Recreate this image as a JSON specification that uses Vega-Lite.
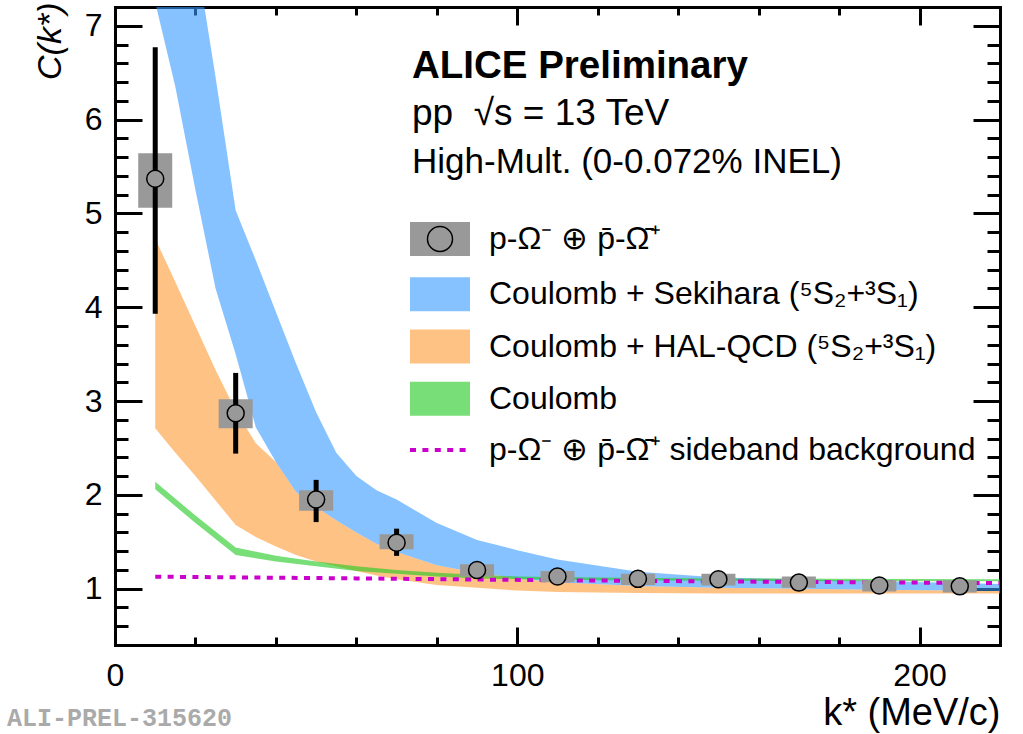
{
  "$schema": "https://vega.github.io/schema/vega-lite/v6.json",
  "width": 885,
  "height": 638,
  "autosize": {"type": "none"},
  "padding": {"left": 115, "top": 7, "right": 23, "bottom": 89},
  "background": "white",
  "config": {
    "view": {"stroke": null},
    "font": "Liberation Sans",
    "axis": {
      "grid": false,
      "domainColor": "black",
      "domainWidth": 3,
      "domainCap": "square",
      "tickColor": "black",
      "tickWidth": 3,
      "labelFont": "Liberation Sans",
      "labelFontSize": 32,
      "labelColor": "black",
      "labelFlush": false,
      "labelOverlap": false,
      "titleFont": "Liberation Sans",
      "titleFontSize": 38,
      "titleFontWeight": "normal",
      "titleColor": "black",
      "zindex": 1
    }
  },
  "datasets": {
    "blue": [
      {"k": 10, "lo": 7.25, "hi": 10.6},
      {"k": 15, "lo": 6.35, "hi": 9.2},
      {"k": 20, "lo": 5.25, "hi": 7.8},
      {"k": 25, "lo": 4.2, "hi": 6.45},
      {"k": 30, "lo": 3.5, "hi": 5.03},
      {"k": 35, "lo": 2.72, "hi": 4.5},
      {"k": 40, "lo": 2.35, "hi": 3.95},
      {"k": 45, "lo": 2.03, "hi": 3.4},
      {"k": 50, "lo": 1.87, "hi": 2.88},
      {"k": 55, "lo": 1.73, "hi": 2.45},
      {"k": 60, "lo": 1.6, "hi": 2.2},
      {"k": 65, "lo": 1.48, "hi": 2.05},
      {"k": 70, "lo": 1.39, "hi": 1.95},
      {"k": 80, "lo": 1.25, "hi": 1.7},
      {"k": 90, "lo": 1.17, "hi": 1.52},
      {"k": 100, "lo": 1.11, "hi": 1.41},
      {"k": 110, "lo": 1.07, "hi": 1.31},
      {"k": 130, "lo": 1.03, "hi": 1.18},
      {"k": 150, "lo": 1.01, "hi": 1.12},
      {"k": 170, "lo": 1.0, "hi": 1.1},
      {"k": 190, "lo": 0.99, "hi": 1.08},
      {"k": 210, "lo": 0.98, "hi": 1.06},
      {"k": 220, "lo": 0.975, "hi": 1.05}
    ],
    "orange": [
      {"k": 10, "lo": 2.71, "hi": 4.73},
      {"k": 15, "lo": 2.45, "hi": 4.27},
      {"k": 20, "lo": 2.2, "hi": 3.8},
      {"k": 25, "lo": 1.94, "hi": 3.33},
      {"k": 30, "lo": 1.68, "hi": 2.9},
      {"k": 35, "lo": 1.55, "hi": 2.55},
      {"k": 40, "lo": 1.45, "hi": 2.35},
      {"k": 45, "lo": 1.36, "hi": 2.03},
      {"k": 50, "lo": 1.29, "hi": 1.87},
      {"k": 55, "lo": 1.24, "hi": 1.73},
      {"k": 60, "lo": 1.19, "hi": 1.6},
      {"k": 65, "lo": 1.14, "hi": 1.48},
      {"k": 70, "lo": 1.1, "hi": 1.39},
      {"k": 80, "lo": 1.04, "hi": 1.25},
      {"k": 90, "lo": 1.01, "hi": 1.17},
      {"k": 100, "lo": 0.98, "hi": 1.11},
      {"k": 110, "lo": 0.965, "hi": 1.07},
      {"k": 130, "lo": 0.955, "hi": 1.03},
      {"k": 150, "lo": 0.95, "hi": 1.01},
      {"k": 170, "lo": 0.95, "hi": 1.0},
      {"k": 190, "lo": 0.95, "hi": 0.99},
      {"k": 210, "lo": 0.95, "hi": 0.98},
      {"k": 220, "lo": 0.95, "hi": 0.975}
    ],
    "green": [
      {"k": 10, "lo": 2.06, "hi": 2.14},
      {"k": 20, "lo": 1.7, "hi": 1.78},
      {"k": 30, "lo": 1.36, "hi": 1.44},
      {"k": 40, "lo": 1.29, "hi": 1.35},
      {"k": 50, "lo": 1.24, "hi": 1.29},
      {"k": 60, "lo": 1.19, "hi": 1.24},
      {"k": 70, "lo": 1.16, "hi": 1.2},
      {"k": 80, "lo": 1.13, "hi": 1.17},
      {"k": 90, "lo": 1.11, "hi": 1.15},
      {"k": 100, "lo": 1.1, "hi": 1.13},
      {"k": 120, "lo": 1.09, "hi": 1.12},
      {"k": 150, "lo": 1.085, "hi": 1.11},
      {"k": 180, "lo": 1.08, "hi": 1.105},
      {"k": 220, "lo": 1.08, "hi": 1.1}
    ],
    "sideband": [
      {"k": 10, "c": 1.128},
      {"k": 60, "c": 1.11},
      {"k": 110, "c": 1.09},
      {"k": 160, "c": 1.075},
      {"k": 220, "c": 1.06}
    ],
    "pts": [
      {"k": 10, "c": 5.37, "statLo": 3.93, "statHi": 6.77, "systLo": 5.06, "systHi": 5.64},
      {"k": 30, "c": 2.87, "statLo": 2.44, "statHi": 3.3, "systLo": 2.71, "systHi": 3.02},
      {"k": 50, "c": 1.95, "statLo": 1.71, "statHi": 2.16, "systLo": 1.83, "systHi": 2.05},
      {"k": 70, "c": 1.49, "statLo": 1.35, "statHi": 1.64, "systLo": 1.42, "systHi": 1.58},
      {"k": 90, "c": 1.2, "statLo": 1.13, "statHi": 1.27, "systLo": 1.13, "systHi": 1.26},
      {"k": 110, "c": 1.13, "statLo": 1.08, "statHi": 1.18, "systLo": 1.07, "systHi": 1.19},
      {"k": 130, "c": 1.105, "statLo": 1.07, "statHi": 1.14, "systLo": 1.04, "systHi": 1.16},
      {"k": 150, "c": 1.1, "statLo": 1.07, "statHi": 1.13, "systLo": 1.035, "systHi": 1.16},
      {"k": 170, "c": 1.065, "statLo": 1.04, "statHi": 1.09, "systLo": 1.01, "systHi": 1.13},
      {"k": 190, "c": 1.035, "statLo": 1.01, "statHi": 1.06, "systLo": 0.97, "systHi": 1.09},
      {"k": 210, "c": 1.025, "statLo": 1.0, "statHi": 1.05, "systLo": 0.96, "systHi": 1.09}
    ]
  },
  "resolve": {"axis": {"x": "independent", "y": "independent"}},
  "layer": [
    {
      "data": {"name": "orange"},
      "mark": {"type": "area", "clip": true, "fillOpacity": 0.6},
      "encoding": {
        "x": {"field": "k", "type": "quantitative", "scale": {"domain": [0, 220], "nice": false, "zero": false, "padding": 0},
          "axis": {"orient": "bottom", "values": [0, 100, 200], "tickSize": -18, "labelPadding": 33,
            "title": "k* (MeV/c)", "titleAnchor": "end", "titleAlign": "right", "titleBaseline": "alphabetic", "titleX": 885, "titleY": 79}},
        "y": {"field": "lo", "type": "quantitative", "scale": {"domain": [0.4, 7.2], "nice": false, "zero": false},
          "axis": {"orient": "left", "values": [1, 2, 3, 4, 5, 6, 7], "tickSize": -27, "labelPadding": 40,
            "title": "C(k*)", "titleFontStyle": "italic", "titleFontSize": 34, "titleAnchor": "end", "titleAngle": -90, "titleAlign": "right", "titleBaseline": "alphabetic", "titleX": -55, "titleY": -5}},
        "y2": {"field": "hi"},
        "color": {"datum": "C",
          "scale": {"domain": ["A", "B", "C", "D", "E"], "range": ["#999999", "#3399ff", "#ff9933", "#1ec81e", "#cc00cc"]},
          "legend": {
            "orient": "none", "legendX": 309, "legendY": 216, "direction": "vertical", "title": null,
            "padding": 0, "rowPadding": 18.25, "symbolSize": 1600, "symbolType": "square",
            "labelFontSize": 32, "labelFont": "Liberation Sans", "labelColor": "black", "labelLimit": 800, "labelOffset": 33,
            "labelExpr": "datum.value == 'A' ? 'p-Ω⁻ ⊕ p̄-Ω̄⁺' : datum.value == 'B' ? 'Coulomb + Sekihara (⁵S₂+³S₁)' : datum.value == 'C' ? 'Coulomb + HAL-QCD (⁵S₂+³S₁)' : datum.value == 'D' ? 'Coulomb' : 'p-Ω⁻ ⊕ p̄-Ω̄⁺ sideband background'",
            "encode": {"symbols": {"update": {
              "shape": {"signal": "datum.value == 'E' ? 'M-1.5,0H1.5' : datum.value == 'A' ? 'M0.625,0A0.625,0.625,0,1,1,-0.625,0A0.625,0.625,0,1,1,0.625,0L1.5,0L1.5,0.85L-1.5,0.85L-1.5,-0.85L1.5,-0.85L1.5,0L0.625,0Z' : 'M-1.5,-0.85H1.5V0.85H-1.5Z'"},
              "fillOpacity": {"signal": "datum.value == 'A' ? 1 : 0.6"},
              "opacity": {"value": 1},
              "stroke": {"signal": "datum.value == 'E' ? '#cc00cc' : datum.value == 'A' ? 'black' : 'transparent'"},
              "strokeOpacity": {"signal": "datum.value == 'E' || datum.value == 'A' ? 1 : 0"},
              "strokeWidth": {"signal": "datum.value == 'E' ? 4 : datum.value == 'A' ? 1.5 : 0"},
              "strokeDash": {"signal": "datum.value == 'E' ? [6, 6.4] : datum.value == 'A' ? [78.6, 2000] : [1, 0]"}
            }}}
          }}
      }
    },
    {
      "data": {"name": "blue"},
      "mark": {"type": "area", "clip": true, "fillOpacity": 0.6},
      "encoding": {
        "x": {"field": "k", "type": "quantitative", "scale": {"domain": [0, 220], "nice": false, "zero": false, "padding": 0},
          "axis": {"orient": "bottom", "values": [20, 40, 60, 80, 120, 140, 160, 180], "tickSize": -8, "labels": false, "domain": false, "title": null}},
        "y": {"field": "lo", "type": "quantitative", "scale": {"domain": [0.4, 7.2], "nice": false, "zero": false},
          "axis": {"orient": "left", "values": [0.6, 0.8, 1.2, 1.4, 1.6, 1.8, 2.2, 2.4, 2.6, 2.8, 3.2, 3.4, 3.6, 3.8, 4.2, 4.4, 4.6, 4.8, 5.2, 5.4, 5.6, 5.8, 6.2, 6.4, 6.6, 6.8], "tickSize": -13, "labels": false, "domain": false, "title": null}},
        "y2": {"field": "hi"},
        "color": {"datum": "B",
          "legend": {
            "orient": "none", "legendX": 309, "legendY": 216, "direction": "vertical", "title": null,
            "padding": 0, "rowPadding": 18.25, "symbolSize": 1600, "symbolType": "square",
            "labelFontSize": 32, "labelFont": "Liberation Sans", "labelColor": "black", "labelLimit": 800, "labelOffset": 33,
            "labelExpr": "datum.value == 'A' ? 'p-Ω⁻ ⊕ p̄-Ω̄⁺' : datum.value == 'B' ? 'Coulomb + Sekihara (⁵S₂+³S₁)' : datum.value == 'C' ? 'Coulomb + HAL-QCD (⁵S₂+³S₁)' : datum.value == 'D' ? 'Coulomb' : 'p-Ω⁻ ⊕ p̄-Ω̄⁺ sideband background'",
            "encode": {"symbols": {"update": {
              "shape": {"signal": "datum.value == 'E' ? 'M-1.5,0H1.5' : datum.value == 'A' ? 'M0.625,0A0.625,0.625,0,1,1,-0.625,0A0.625,0.625,0,1,1,0.625,0L1.5,0L1.5,0.85L-1.5,0.85L-1.5,-0.85L1.5,-0.85L1.5,0L0.625,0Z' : 'M-1.5,-0.85H1.5V0.85H-1.5Z'"},
              "fillOpacity": {"signal": "datum.value == 'A' ? 1 : 0.6"},
              "opacity": {"value": 1},
              "stroke": {"signal": "datum.value == 'E' ? '#cc00cc' : datum.value == 'A' ? 'black' : 'transparent'"},
              "strokeOpacity": {"signal": "datum.value == 'E' || datum.value == 'A' ? 1 : 0"},
              "strokeWidth": {"signal": "datum.value == 'E' ? 4 : datum.value == 'A' ? 1.5 : 0"},
              "strokeDash": {"signal": "datum.value == 'E' ? [6, 6.4] : datum.value == 'A' ? [78.6, 2000] : [1, 0]"}
            }}}
          }}
      }
    },
    {
      "data": {"name": "green"},
      "mark": {"type": "area", "clip": true, "fillOpacity": 0.6},
      "encoding": {
        "x": {"field": "k", "type": "quantitative", "scale": {"domain": [0, 220], "nice": false, "zero": false, "padding": 0},
          "axis": {"orient": "top", "values": [0, 100, 200], "tickSize": -18, "labels": false, "domain": true, "title": null}},
        "y": {"field": "lo", "type": "quantitative", "scale": {"domain": [0.4, 7.2], "nice": false, "zero": false},
          "axis": {"orient": "right", "values": [1, 2, 3, 4, 5, 6, 7], "tickSize": -27, "labels": false, "domain": true, "title": null}},
        "y2": {"field": "hi"},
        "color": {"datum": "D",
          "legend": {
            "orient": "none", "legendX": 309, "legendY": 216, "direction": "vertical", "title": null,
            "padding": 0, "rowPadding": 18.25, "symbolSize": 1600, "symbolType": "square",
            "labelFontSize": 32, "labelFont": "Liberation Sans", "labelColor": "black", "labelLimit": 800, "labelOffset": 33,
            "labelExpr": "datum.value == 'A' ? 'p-Ω⁻ ⊕ p̄-Ω̄⁺' : datum.value == 'B' ? 'Coulomb + Sekihara (⁵S₂+³S₁)' : datum.value == 'C' ? 'Coulomb + HAL-QCD (⁵S₂+³S₁)' : datum.value == 'D' ? 'Coulomb' : 'p-Ω⁻ ⊕ p̄-Ω̄⁺ sideband background'",
            "encode": {"symbols": {"update": {
              "shape": {"signal": "datum.value == 'E' ? 'M-1.5,0H1.5' : datum.value == 'A' ? 'M0.625,0A0.625,0.625,0,1,1,-0.625,0A0.625,0.625,0,1,1,0.625,0L1.5,0L1.5,0.85L-1.5,0.85L-1.5,-0.85L1.5,-0.85L1.5,0L0.625,0Z' : 'M-1.5,-0.85H1.5V0.85H-1.5Z'"},
              "fillOpacity": {"signal": "datum.value == 'A' ? 1 : 0.6"},
              "opacity": {"value": 1},
              "stroke": {"signal": "datum.value == 'E' ? '#cc00cc' : datum.value == 'A' ? 'black' : 'transparent'"},
              "strokeOpacity": {"signal": "datum.value == 'E' || datum.value == 'A' ? 1 : 0"},
              "strokeWidth": {"signal": "datum.value == 'E' ? 4 : datum.value == 'A' ? 1.5 : 0"},
              "strokeDash": {"signal": "datum.value == 'E' ? [6, 6.4] : datum.value == 'A' ? [78.6, 2000] : [1, 0]"}
            }}}
          }}
      }
    },
    {
      "data": {"name": "sideband"},
      "mark": {"type": "line", "clip": true, "color": "#cc00cc", "strokeWidth": 4, "strokeDash": [6, 6.4]},
      "encoding": {
        "x": {"field": "k", "type": "quantitative", "scale": {"domain": [0, 220], "nice": false, "zero": false, "padding": 0},
          "axis": {"orient": "top", "values": [20, 40, 60, 80, 120, 140, 160, 180], "tickSize": -8, "labels": false, "domain": false, "title": null}},
        "y": {"field": "c", "type": "quantitative", "scale": {"domain": [0.4, 7.2], "nice": false, "zero": false},
          "axis": {"orient": "right", "values": [0.6, 0.8, 1.2, 1.4, 1.6, 1.8, 2.2, 2.4, 2.6, 2.8, 3.2, 3.4, 3.6, 3.8, 4.2, 4.4, 4.6, 4.8, 5.2, 5.4, 5.6, 5.8, 6.2, 6.4, 6.6, 6.8], "tickSize": -13, "labels": false, "domain": false, "title": null}}
      }
    },
    {
      "data": {"name": "pts"},
      "mark": {"type": "bar", "size": 34, "opacity": 1},
      "encoding": {
        "x": {"field": "k", "type": "quantitative", "scale": {"domain": [0, 220], "nice": false, "zero": false, "padding": 0}, "axis": null},
        "y": {"field": "systLo", "type": "quantitative", "scale": {"domain": [0.4, 7.2], "nice": false, "zero": false}, "axis": null},
        "y2": {"field": "systHi"},
        "color": {"datum": "A",
          "legend": {
            "orient": "none", "legendX": 309, "legendY": 216, "direction": "vertical", "title": null,
            "padding": 0, "rowPadding": 18.25, "symbolSize": 1600, "symbolType": "square",
            "labelFontSize": 32, "labelFont": "Liberation Sans", "labelColor": "black", "labelLimit": 800, "labelOffset": 33,
            "labelExpr": "datum.value == 'A' ? 'p-Ω⁻ ⊕ p̄-Ω̄⁺' : datum.value == 'B' ? 'Coulomb + Sekihara (⁵S₂+³S₁)' : datum.value == 'C' ? 'Coulomb + HAL-QCD (⁵S₂+³S₁)' : datum.value == 'D' ? 'Coulomb' : 'p-Ω⁻ ⊕ p̄-Ω̄⁺ sideband background'",
            "encode": {"symbols": {"update": {
              "shape": {"signal": "datum.value == 'E' ? 'M-1.5,0H1.5' : datum.value == 'A' ? 'M0.625,0A0.625,0.625,0,1,1,-0.625,0A0.625,0.625,0,1,1,0.625,0L1.5,0L1.5,0.85L-1.5,0.85L-1.5,-0.85L1.5,-0.85L1.5,0L0.625,0Z' : 'M-1.5,-0.85H1.5V0.85H-1.5Z'"},
              "fillOpacity": {"signal": "datum.value == 'A' ? 1 : 0.6"},
              "opacity": {"value": 1},
              "stroke": {"signal": "datum.value == 'E' ? '#cc00cc' : datum.value == 'A' ? 'black' : 'transparent'"},
              "strokeOpacity": {"signal": "datum.value == 'E' || datum.value == 'A' ? 1 : 0"},
              "strokeWidth": {"signal": "datum.value == 'E' ? 4 : datum.value == 'A' ? 1.5 : 0"},
              "strokeDash": {"signal": "datum.value == 'E' ? [6, 6.4] : datum.value == 'A' ? [78.6, 2000] : [1, 0]"}
            }}}
          }}
      }
    },
    {
      "data": {"name": "pts"},
      "mark": {"type": "rule", "color": "black", "strokeWidth": 5},
      "encoding": {
        "x": {"field": "k", "type": "quantitative", "scale": {"domain": [0, 220], "nice": false, "zero": false, "padding": 0}, "axis": null},
        "y": {"field": "statLo", "type": "quantitative", "scale": {"domain": [0.4, 7.2], "nice": false, "zero": false}, "axis": null},
        "y2": {"field": "statHi"}
      }
    },
    {
      "data": {"name": "pts"},
      "mark": {"type": "point", "shape": "circle", "filled": true, "fill": "#999999", "stroke": "black", "strokeWidth": 1.5, "size": 289, "opacity": 1},
      "encoding": {
        "x": {"field": "k", "type": "quantitative", "scale": {"domain": [0, 220], "nice": false, "zero": false, "padding": 0}, "axis": null},
        "y": {"field": "c", "type": "quantitative", "scale": {"domain": [0.4, 7.2], "nice": false, "zero": false}, "axis": null}
      }
    },
    {
      "data": {"values": [{"label": "ALICE Preliminary"}]},
      "mark": {"type": "text", "align": "left", "baseline": "alphabetic", "font": "Liberation Sans", "fontSize": 38.5, "fontWeight": "bold", "color": "black"},
      "encoding": {
        "x": {"datum": 73.83, "type": "quantitative", "scale": {"domain": [0, 220], "nice": false, "zero": false, "padding": 0}, "axis": null},
        "y": {"datum": 6.443, "type": "quantitative", "scale": {"domain": [0.4, 7.2], "nice": false, "zero": false}, "axis": null},
        "text": {"field": "label"}
      }
    },
    {
      "data": {"values": [{"label": "pp\u00a0\u00a0√s = 13 TeV"}]},
      "mark": {"type": "text", "align": "left", "baseline": "alphabetic", "font": "Liberation Sans", "fontSize": 37, "color": "black"},
      "encoding": {
        "x": {"datum": 73.83, "type": "quantitative", "scale": {"domain": [0, 220], "nice": false, "zero": false, "padding": 0}, "axis": null},
        "y": {"datum": 5.942, "type": "quantitative", "scale": {"domain": [0.4, 7.2], "nice": false, "zero": false}, "axis": null},
        "text": {"field": "label"}
      }
    },
    {
      "data": {"values": [{"label": "High-Mult. (0-0.072% INEL)"}]},
      "mark": {"type": "text", "align": "left", "baseline": "alphabetic", "font": "Liberation Sans", "fontSize": 35, "color": "black"},
      "encoding": {
        "x": {"datum": 73.83, "type": "quantitative", "scale": {"domain": [0, 220], "nice": false, "zero": false, "padding": 0}, "axis": null},
        "y": {"datum": 5.431, "type": "quantitative", "scale": {"domain": [0.4, 7.2], "nice": false, "zero": false}, "axis": null},
        "text": {"field": "label"}
      }
    },
    {
      "data": {"values": [{"label": "ALI-PREL-315620"}]},
      "mark": {"type": "text", "align": "left", "baseline": "alphabetic", "font": "Liberation Mono", "fontSize": 25, "fontWeight": "bold", "color": "#aaaaaa"},
      "encoding": {
        "x": {"datum": -26.85, "type": "quantitative", "scale": {"domain": [0, 220], "nice": false, "zero": false, "padding": 0}, "axis": null},
        "y": {"datum": -0.463, "type": "quantitative", "scale": {"domain": [0.4, 7.2], "nice": false, "zero": false}, "axis": null},
        "text": {"field": "label"}
      }
    }
  ]
}
